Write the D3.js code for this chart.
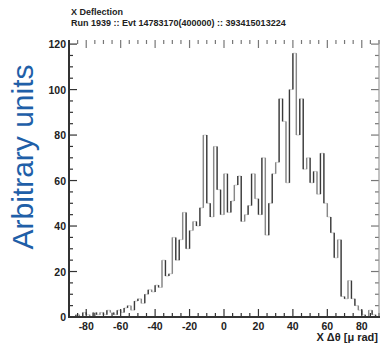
<!DOCTYPE html>
<html><head><meta charset="utf-8">
<script src="https://cdn.jsdelivr.net/npm/d3@7"></script>
<style>body{margin:0;background:#fff}svg{display:block}</style>
</head><body>
<svg id="c" width="383" height="348"></svg>
<script>
const titleLines = ["X Deflection", "Run 1939 :: Evt 14783170(400000) :: 393415013224"];
const yLabel = "Arbitrary units";
const xLabel = "X \u0394\u03B8 [\u03BC rad]";
const xTicks = [-80, -60, -40, -20, 0, 20, 40, 60, 80];
const yTicks = [0, 20, 40, 60, 80, 100, 120];
const binLow = [-90,-88,-86,-84,-82,-80,-78,-76,-74,-72,
  -70,-68,-66,-64,-62,-60,-58,-56,-54,-52,
  -50,-48,-46,-44,-42,-40,-38,-36,-34,-32,
  -30,-28,-26,-24,-22,-20,-18,-16,-14,-12,
  -10,-8,-6,-4,-2,0,2,4,6,8,
  10,12,14,16,18,20,22,24,26,28,
  30,32,34,36,38,40,42,44,46,48,
  50,52,54,56,58,60,62,64,66,68,
  70,72,74,76,78,80,82,84,86,88];
const counts = [0,0,1,0,2,1,0,2,1,2,
  1,3,2,1,3,2,4,5,3,7,
  8,6,10,12,11,14,13,25,18,19,
  35,25,34,46,30,38,42,40,48,80,
  50,44,75,56,45,63,46,51,58,62,
  42,45,49,63,52,45,70,36,50,63,
  68,96,86,59,100,116,80,96,65,70,
  59,64,54,72,50,44,37,26,34,9,
  8,16,8,5,3,1,0,3,1,0];
const binWidth = 2;

const svg = d3.select("#c");
const x = d3.scaleLinear().domain([-90, 90]).range([69, 379]);
const y = d3.scaleLinear().domain([0, 121.8]).range([317, 40]);

// title
svg.append("text").attr("x", 71).attr("y", 15).attr("font-family", "Liberation Sans, Arial, sans-serif")
  .attr("font-size", 9).attr("font-weight", "bold").attr("fill", "#222").text(titleLines[0]);
svg.append("text").attr("x", 71).attr("y", 25.5).attr("font-family", "Liberation Sans, Arial, sans-serif")
  .attr("font-size", 9).attr("font-weight", "bold").attr("fill", "#222").text(titleLines[1]);

// y label
svg.append("text").attr("transform", "translate(33,157) rotate(-90)").attr("text-anchor", "middle")
  .attr("font-family", "Liberation Sans, Arial, sans-serif").attr("font-size", 30)
  .attr("fill", "#1f5fa8").text(yLabel);

// histogram
const steps = [];
binLow.forEach((b, i) => { steps.push([b, counts[i]]); });
steps.push([binLow[binLow.length - 1] + binWidth, counts[counts.length - 1]]);
const line = d3.line().x(d => x(d[0])).y(d => y(d[1])).curve(d3.curveStepAfter);
svg.append("path").attr("d", line(steps)).attr("fill", "none").attr("stroke", "#b5b5b5").attr("stroke-width", 0.6);
const edges = svg.append("g");
for (let i = 1; i < counts.length; i++) {
  edges.append("line").attr("x1", x(binLow[i])).attr("x2", x(binLow[i]))
    .attr("y1", y(counts[i - 1])).attr("y2", y(counts[i]))
    .attr("stroke", i % 3 === 0 ? "#888" : "#3a3a3a").attr("stroke-width", 1.4);
}

// axes
const axG = svg.append("g");
const minorX = d3.range(-90, 91, 5);
const minorY = d3.range(0, 121, 5);
minorX.forEach(v => {
  const major = xTicks.includes(v);
  const L = major ? 8 : 4;
  axG.append("line").attr("x1", x(v)).attr("x2", x(v)).attr("y1", 317).attr("y2", 317 - L).attr("stroke", "#333").attr("stroke-width", 1.2);
  axG.append("line").attr("x1", x(v)).attr("x2", x(v)).attr("y1", 40).attr("y2", 40 + L).attr("stroke", "#777").attr("stroke-width", 1.2);
});
minorY.forEach(v => {
  const major = yTicks.includes(v);
  const L = major ? 8 : 4;
  axG.append("line").attr("x1", 69).attr("x2", 69 + L).attr("y1", y(v)).attr("y2", y(v)).attr("stroke", "#333").attr("stroke-width", 1.2);
  axG.append("line").attr("x1", 379).attr("x2", 379 - L).attr("y1", y(v)).attr("y2", y(v)).attr("stroke", "#777").attr("stroke-width", 1.2);
});
axG.append("line").attr("x1", 379).attr("x2", 379).attr("y1", 40).attr("y2", 317).attr("stroke", "#999").attr("stroke-width", 1.2);
axG.append("line").attr("x1", 69).attr("x2", 69).attr("y1", 40).attr("y2", 318).attr("stroke", "#333").attr("stroke-width", 2);
axG.append("line").attr("x1", 68).attr("x2", 380).attr("y1", 317).attr("y2", 317).attr("stroke", "#333").attr("stroke-width", 2);

xTicks.forEach(v => {
  axG.append("text").attr("x", x(v)).attr("y", 330).attr("text-anchor", "middle")
    .attr("font-family", "Liberation Sans, Arial, sans-serif").attr("font-size", 10.5).attr("font-weight", "bold")
    .attr("fill", "#222").text(v);
});
yTicks.forEach(v => {
  axG.append("text").attr("x", 66).attr("y", y(v) + 4).attr("text-anchor", "end")
    .attr("font-family", "Liberation Sans, Arial, sans-serif").attr("font-size", 10.5).attr("font-weight", "bold")
    .attr("fill", "#222").text(v);
});
svg.append("text").attr("x", 378).attr("y", 341).attr("text-anchor", "end")
  .attr("font-family", "Liberation Sans, Arial, sans-serif").attr("font-size", 11).attr("font-weight", "bold")
  .attr("fill", "#222").text(xLabel);
</script>
</body></html>
